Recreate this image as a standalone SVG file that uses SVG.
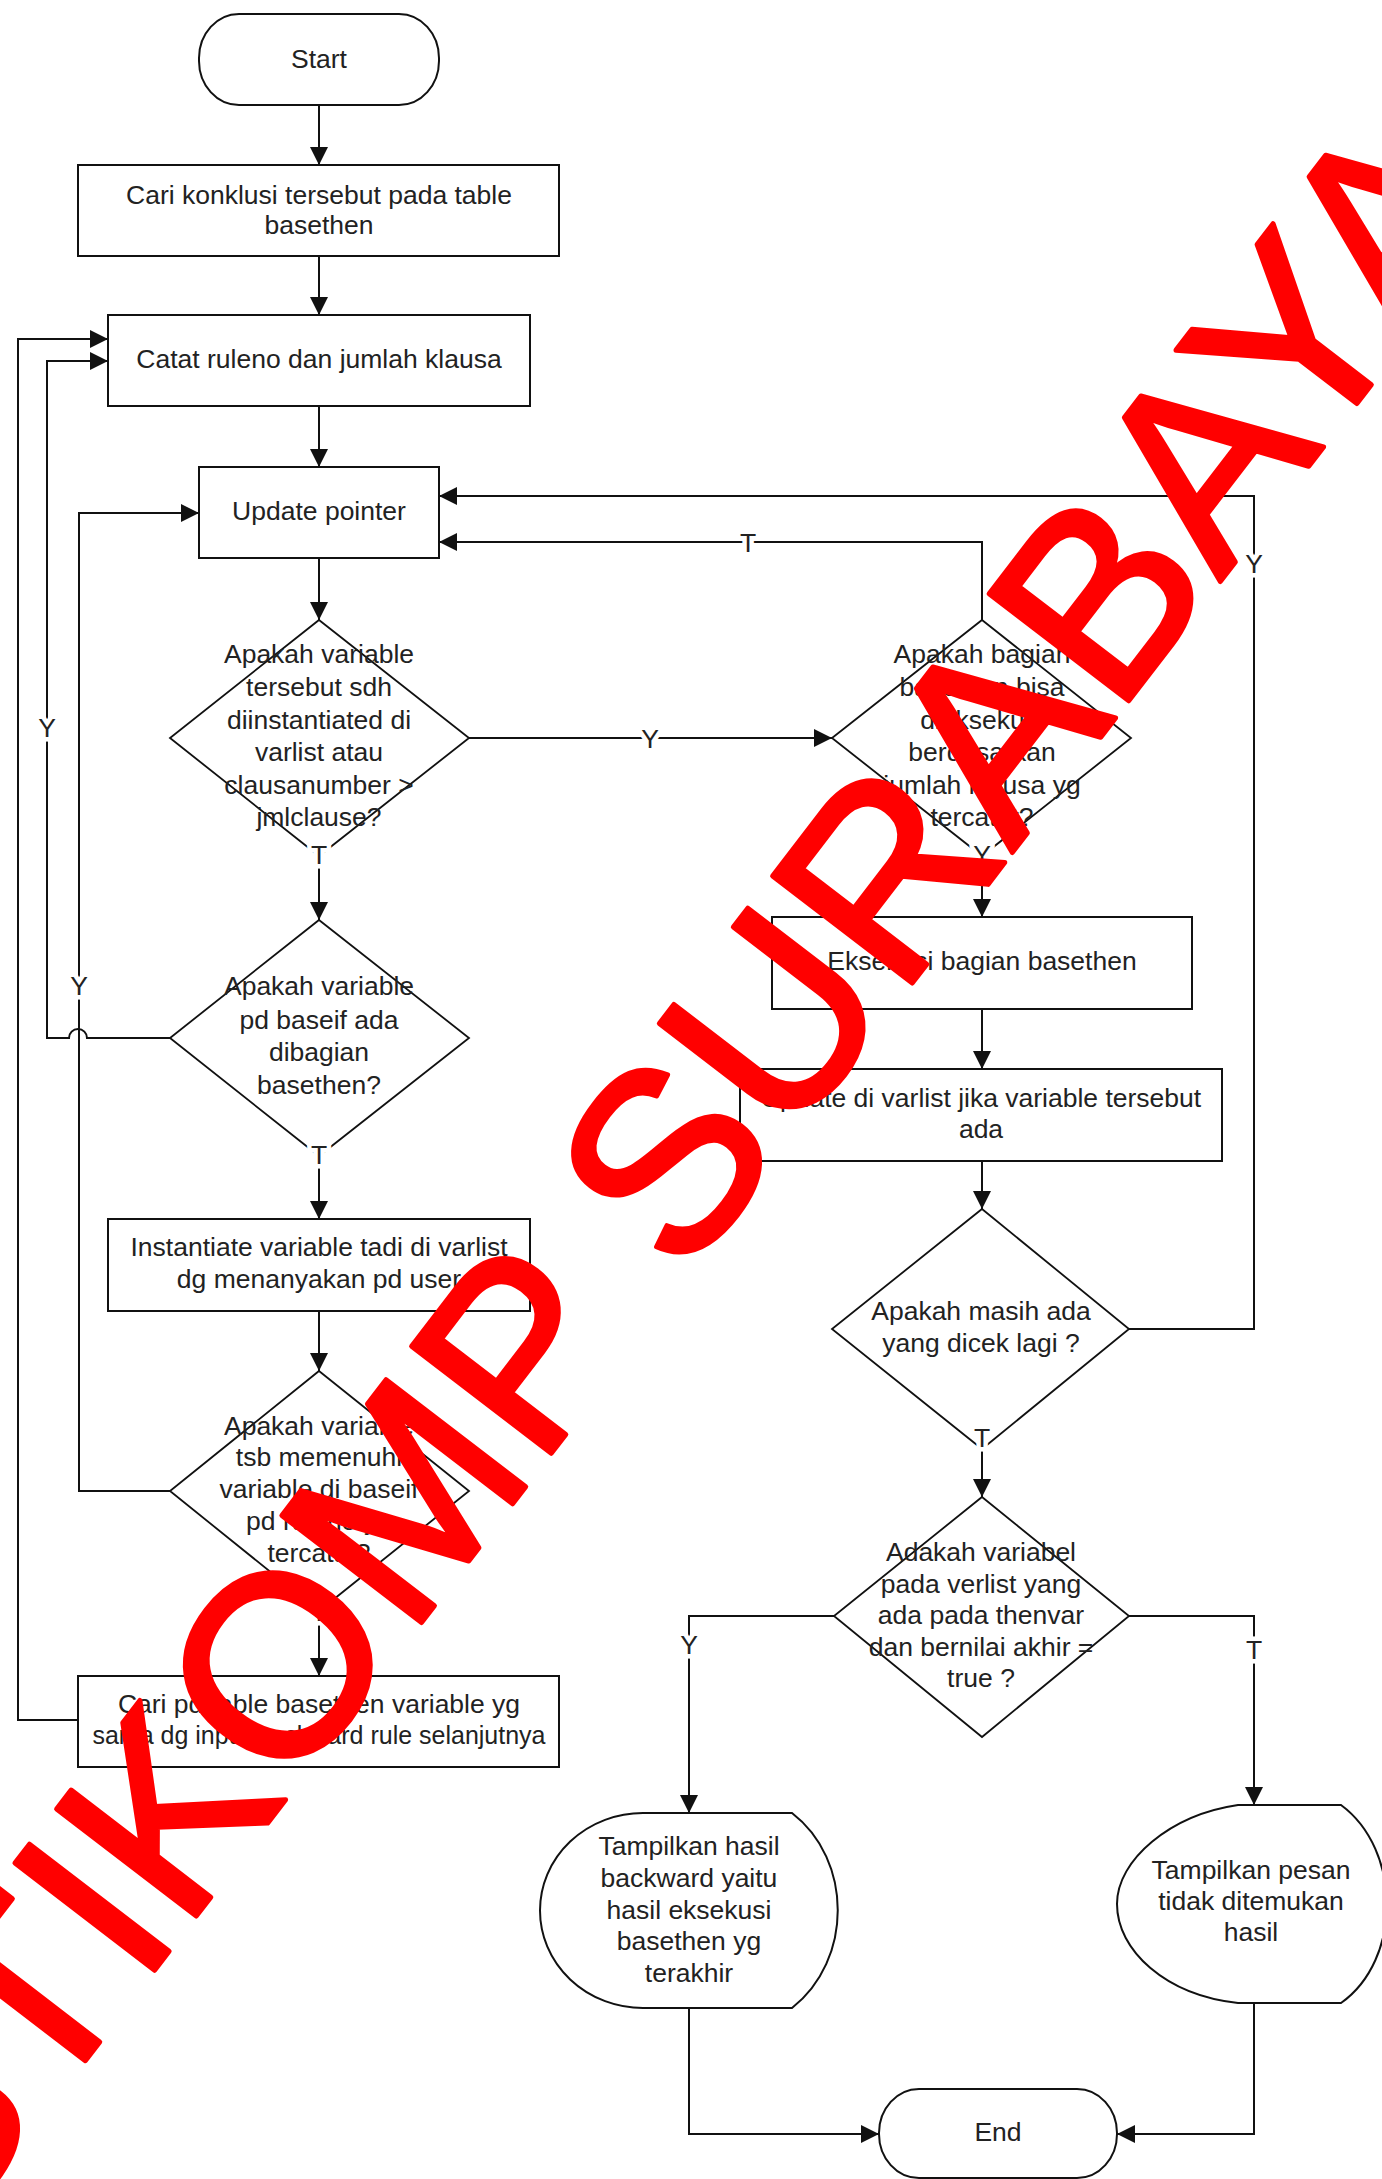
<svg xmlns="http://www.w3.org/2000/svg" width="1382" height="2179" viewBox="0 0 1382 2179">
<defs>
<marker id="ah" markerUnits="userSpaceOnUse" markerWidth="20" markerHeight="20" refX="18" refY="9" orient="auto"><path d="M0,0 L18,9 L0,18 z" fill="#111"/></marker>
<style>
.box{fill:#fff;stroke:#111;stroke-width:2}
.dia{fill:#fff;stroke:#111;stroke-width:1.8}
.t{font-family:"Liberation Sans",Arial,sans-serif;font-size:26.5px;fill:#222;text-anchor:middle}
.c{fill:none;stroke:#111;stroke-width:2}
.a{marker-end:url(#ah)}
.lbl{font-family:"Liberation Sans",Arial,sans-serif;font-size:26.5px;fill:#222;text-anchor:middle;stroke:#fff;stroke-width:9px;paint-order:stroke;stroke-linejoin:round}
.wm{font-family:"Liberation Sans",Arial,sans-serif;font-size:256px;fill:#f00;stroke:#f00;stroke-width:5px;stroke-linejoin:round}
</style>
</defs>
<rect width="1382" height="2179" fill="#fff"/>

<g id="start"><rect class="box" x="199" y="14" width="240" height="91" rx="40" ry="44"/><text class="t" x="319" y="68">Start</text></g>
<g id="cari-konklusi"><rect class="box" x="78" y="165" width="481" height="91"/><text class="t" x="319" y="204">Cari konklusi tersebut pada table</text><text class="t" x="319" y="234">basethen</text></g>
<g id="catat"><rect class="box" x="108" y="315" width="422" height="91"/><text class="t" x="319" y="368">Catat ruleno dan jumlah klausa</text></g>
<g id="update-pointer"><rect class="box" x="199" y="467" width="240" height="91"/><text class="t" x="319" y="520">Update pointer</text></g>
<g id="dec1"><polygon class="dia" points="319,620 469,738 319,856 170,738"/>
<text class="t" x="319" y="663">Apakah variable</text><text class="t" x="319" y="696">tersebut sdh</text><text class="t" x="319" y="729">diinstantiated di</text><text class="t" x="319" y="761">varlist atau</text><text class="t" x="319" y="794">clausanumber &gt;</text><text class="t" x="319" y="826">jmlclause?</text></g>
<g id="dec2"><polygon class="dia" points="319,920 469,1038 319,1156 170,1038"/>
<text class="t" x="319" y="995">Apakah variable</text><text class="t" x="319" y="1029">pd baseif ada</text><text class="t" x="319" y="1061">dibagian</text><text class="t" x="319" y="1094">basethen?</text></g>
<g id="instantiate"><rect class="box" x="108" y="1219" width="422" height="92"/><text class="t" x="319" y="1256">Instantiate variable tadi di varlist</text><text class="t" x="319" y="1288">dg menanyakan pd user</text></g>
<g id="dec3"><polygon class="dia" points="319,1371 469,1491 319,1611 170,1491"/>
<text class="t" x="319" y="1435">Apakah variable</text><text class="t" x="319" y="1466">tsb memenuhi</text><text class="t" x="319" y="1498">variable di baseif</text><text class="t" x="319" y="1530">pd ruleno yg</text><text class="t" x="319" y="1562">tercatat?</text></g>
<g id="cari-pd"><rect class="box" x="78" y="1676" width="481" height="91"/><text class="t" x="319" y="1713">Cari pd table basethen variable yg</text><text class="t" x="319" y="1744" style="font-size:25px">sama dg input backward rule selanjutnya</text></g>

<g id="dec-r1"><polygon class="dia" points="982,620 1131,738 982,856 832,738"/>
<text class="t" x="982" y="663">Apakah bagian</text><text class="t" x="982" y="696">basethen bisa</text><text class="t" x="982" y="729">dieksekusi</text><text class="t" x="982" y="761">berdasarkan</text><text class="t" x="982" y="794">jumlah klausa yg</text><text class="t" x="982" y="826">tercatat?</text></g>
<g id="eksekusi"><rect class="box" x="772" y="917" width="420" height="92"/><text class="t" x="982" y="970">Eksekusi bagian basethen</text></g>
<g id="update-varlist"><rect class="box" x="740" y="1069" width="482" height="92"/><text class="t" x="981" y="1107">Update di varlist jika variable tersebut</text><text class="t" x="981" y="1138">ada</text></g>
<g id="dec-r2"><polygon class="dia" points="982,1209 1129,1329 982,1449 832,1329"/>
<text class="t" x="981" y="1320">Apakah masih ada</text><text class="t" x="981" y="1352">yang dicek lagi ?</text></g>
<g id="dec-r3"><polygon class="dia" points="982,1497 1129,1616 982,1737 834,1616"/>
<text class="t" x="981" y="1561">Adakah variabel</text><text class="t" x="981" y="1593">pada verlist yang</text><text class="t" x="981" y="1624">ada pada thenvar</text><text class="t" x="981" y="1656">dan bernilai akhir =</text><text class="t" x="981" y="1687">true ?</text></g>
<g id="tampil-hasil"><path class="box" d="M643,1813 L792,1813 C853,1860 853,1960 792,2008 L643,2008 A103,97.5 0 0 1 643,1813 Z"/>
<text class="t" x="689" y="1855">Tampilkan hasil</text><text class="t" x="689" y="1887">backward yaitu</text><text class="t" x="689" y="1919">hasil eksekusi</text><text class="t" x="689" y="1950">basethen yg</text><text class="t" x="689" y="1982">terakhir</text></g>
<g id="tampil-pesan"><path class="box" d="M1238,1805 L1341,1805 C1402,1850 1402,1960 1341,2003 L1238,2003 C1165,1995 1117,1950 1117,1904 C1117,1860 1170,1815 1238,1805 Z"/>
<text class="t" x="1251" y="1879">Tampilkan pesan</text><text class="t" x="1251" y="1910">tidak ditemukan</text><text class="t" x="1251" y="1941">hasil</text></g>
<g id="end"><rect class="box" x="879" y="2089" width="238" height="89" rx="40" ry="44"/><text class="t" x="998" y="2141">End</text></g>

<g id="connectors">
<path class="c a" d="M319,105 V165"/>
<path class="c a" d="M319,256 V315"/>
<path class="c a" d="M319,406 V467"/>
<path class="c a" d="M319,558 V620"/>
<path class="c a" d="M319,856 V920"/>
<path class="c a" d="M319,1156 V1219"/>
<path class="c a" d="M319,1311 V1371"/>
<path class="c a" d="M319,1611 V1676"/>
<path class="c a" d="M469,738 H832"/>
<path class="c a" d="M982,620 V542 H439"/>
<path class="c a" d="M1129,1329 H1254 V496 H439"/>
<path class="c a" d="M982,856 V917"/>
<path class="c a" d="M982,1009 V1069"/>
<path class="c a" d="M982,1161 V1209"/>
<path class="c a" d="M982,1449 V1497"/>
<path class="c a" d="M834,1616 H689 V1813"/>
<path class="c a" d="M1129,1616 H1254 V1805"/>
<path class="c a" d="M689,2008 V2134 H879"/>
<path class="c a" d="M1254,2003 V2134 H1117"/>
<path class="c a" d="M78,1720 H18 V339 H108"/>
<path class="c a" d="M170,1038 H87 A9,9 0 0 0 69,1038 H47 V361 H108"/>
<path class="c a" d="M170,1491 H79 V513 H199"/>
<text class="lbl" x="319" y="864">T</text>
<text class="lbl" x="319" y="1164">T</text>
<text class="lbl" x="319" y="1621">T</text>
<text class="lbl" x="650" y="748">Y</text>
<text class="lbl" x="748" y="552">T</text>
<text class="lbl" x="1254" y="573">Y</text>
<text class="lbl" x="982" y="864">Y</text>
<text class="lbl" x="982" y="1447">T</text>
<text class="lbl" x="689" y="1654">Y</text>
<text class="lbl" x="1254" y="1659">T</text>
<text class="lbl" x="47" y="737">Y</text>
<text class="lbl" x="79" y="995">Y</text>
</g>

<g id="watermark"><text class="wm" transform="translate(-58.9,2248.6) rotate(-52.5)">STIKOMP SURABAYA</text></g>
</svg>
